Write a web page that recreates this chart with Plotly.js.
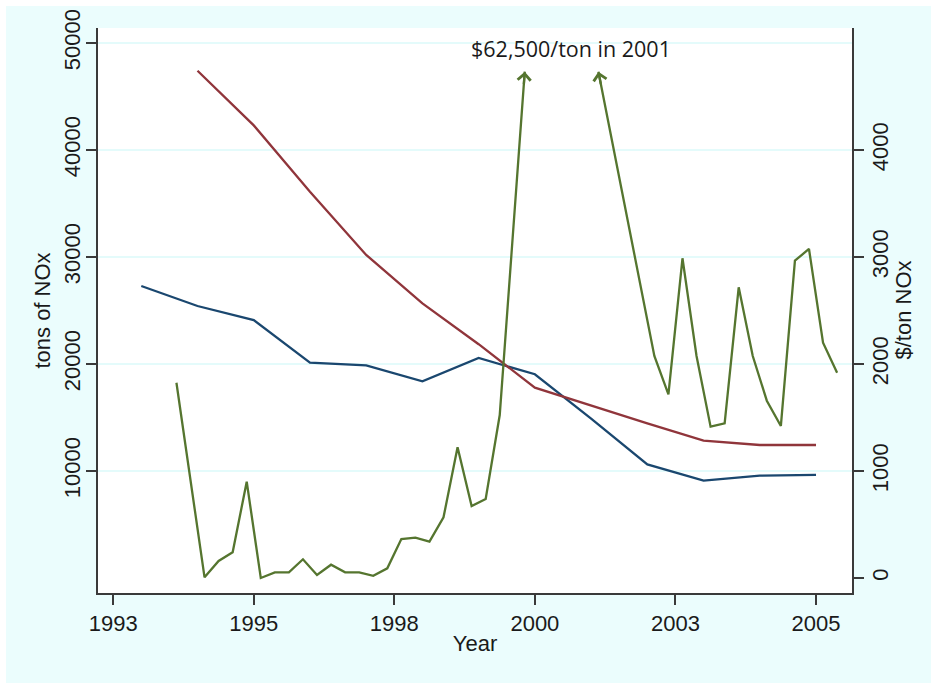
<!DOCTYPE html>
<html>
<head>
<meta charset="utf-8">
<script src="https://cdn.plot.ly/plotly-3.0.1.min.js"></script>
<style>
  html, body { margin: 0; padding: 0; background: #ffffff; }
  #chart { position: absolute; left: 6px; top: 6px; width: 925px; height: 677px; }
</style>
</head>
<body>
<div id="chart"></div>
<script>
// ---- data ----
const emissionYears = [1993, 1994, 1995, 1996, 1997, 1998, 1999, 2000, 2001, 2002, 2003, 2004, 2005];
const emissionTons  = [27290, 25420, 24110, 20120, 19880, 18380, 20560, 19040, 14900, 10620, 9100, 9560, 9630];

const budgetYears = [1994, 1995, 1996, 1997, 1998, 1999, 2000, 2001, 2002, 2003, 2004, 2005];
const budgetTons  = [47410, 42300, 36100, 30190, 25670, 21850, 17790, 16100, 14450, 12830, 12430, 12430];

// quarterly allowance price, $/ton NOx (2000-2001 off the scale)
const priceEarlyQ = [1993.625, 1994.125, 1994.375, 1994.625, 1994.875, 1995.125, 1995.375, 1995.625,
                     1995.875, 1996.125, 1996.375, 1996.625, 1996.875, 1997.125, 1997.375, 1997.625,
                     1997.875, 1998.125, 1998.375, 1998.625, 1998.875, 1999.125, 1999.375];
const priceEarly  = [1825, 6, 159, 240, 900, 0, 53, 53,
                     175, 28, 124, 53, 53, 21, 90, 364,
                     377, 340, 567, 1221, 673, 738, 1523];
const priceLateQ  = [2002.125, 2002.375, 2002.625, 2002.875, 2003.125, 2003.375, 2003.625, 2003.875,
                     2004.125, 2004.375, 2004.625, 2004.875, 2005.125, 2005.375];
const priceLate   = [2075, 1717, 2988, 2075, 1414, 1445, 2717, 2075,
                     1657, 1421, 2966, 3075, 2199, 1919];

// where the off-scale arrows are cut (top of the visible price scale)
const arrowTipX = [1999.82, 2001.13];
const arrowTipY = [4732, 4732];

const peakNote = '$62,500/ton in 2001';

const xTickVals = [1992.5, 1995, 1997.5, 2000, 2002.5, 2005];
const xTickText = ['1993', '1995', '1998', '2000', '2003', '2005'];
const leftTicks  = [10000, 20000, 30000, 40000, 50000];
const rightTicks = [0, 1000, 2000, 3000, 4000];

// ---- styles ----
const navy = '#1a476f', maroon = '#90353b', green = '#55752f';
const lw = 2.3;
const axisCol = '#3a3a3a';
const fontFam = 'Liberation Sans, Arial, sans-serif';

const traces = [
  { x: emissionYears, y: emissionTons, type: 'scatter', mode: 'lines',
    line: { color: navy, width: lw }, yaxis: 'y', hoverinfo: 'x+y' },
  { x: budgetYears, y: budgetTons, type: 'scatter', mode: 'lines',
    line: { color: maroon, width: lw }, yaxis: 'y', hoverinfo: 'x+y' },
  { x: priceEarlyQ.concat([arrowTipX[0]]), y: priceEarly.concat([arrowTipY[0]]),
    type: 'scatter', mode: 'lines', line: { color: green, width: lw }, yaxis: 'y2' },
  { x: [arrowTipX[1]].concat(priceLateQ), y: [arrowTipY[1]].concat(priceLate),
    type: 'scatter', mode: 'lines', line: { color: green, width: lw }, yaxis: 'y2' }
];

const heads = [
  { fromX: priceEarlyQ[priceEarlyQ.length - 1], fromY: priceEarly[priceEarly.length - 1], tipX: arrowTipX[0], tipY: arrowTipY[0] },
  { fromX: priceLateQ[0], fromY: priceLate[0], tipX: arrowTipX[1], tipY: arrowTipY[1] }
];

const xRange = [1992.23, 2005.64];
const yRange = [-1402, 51402];
const y2Range = [-140.2, 5140.2];

const annotations = [
  { text: peakNote, xref: 'x', yref: 'y2', x: 2000.64, y: 4953, showarrow: false,
    font: { family: 'Open Sans, Noto Sans, sans-serif', size: 21.5, color: '#1a1a1a' } },
  { text: '$/ton NOx', xref: 'paper', yref: 'paper', x: 1, y: 0.5, xshift: 51, textangle: -90,
    xanchor: 'center', yanchor: 'middle', showarrow: false,
    font: { family: fontFam, size: 22, color: '#1a1a1a' } }
];

const layout = {
  width: 925, height: 677,
  margin: { l: 92, r: 79, t: 22, b: 90, pad: 0 },
  paper_bgcolor: '#ebfdfd',
  plot_bgcolor: '#ffffff',
  showlegend: false,
  font: { family: fontFam, size: 22, color: '#1a1a1a' },
  xaxis: {
    range: xRange, tickmode: 'array', tickvals: xTickVals, ticktext: xTickText,
    showgrid: false, zeroline: false, showline: true, linecolor: axisCol, linewidth: 2,
    ticks: 'outside', ticklen: 10, tickwidth: 2, tickcolor: axisCol,
    tickfont: { size: 22 },
    title: { text: 'Year', font: { size: 22 }, standoff: 0 }
  },
  yaxis: {
    range: yRange, tickmode: 'array', tickvals: leftTicks, tickformat: 'd', tickangle: -90,
    ticklabelstandoff: -3,
    showgrid: true, gridcolor: '#e4fbfb', gridwidth: 1.5, zeroline: false,
    showline: true, linecolor: axisCol, linewidth: 2,
    ticks: 'outside', ticklen: 10, tickwidth: 2, tickcolor: axisCol,
    tickfont: { size: 22 },
    title: { text: 'tons of NOx', font: { size: 22 }, standoff: 4 }
  },
  yaxis2: {
    range: y2Range, overlaying: 'y', side: 'right', tickmode: 'array', tickvals: rightTicks,
    tickformat: 'd', tickangle: -90, ticklabelstandoff: -2,
    showgrid: false, zeroline: false, showline: true, linecolor: axisCol, linewidth: 2,
    ticks: 'outside', ticklen: 10, tickwidth: 2, tickcolor: axisCol,
    tickfont: { size: 22 }
  },
  annotations: annotations
};

Plotly.newPlot('chart', traces, layout, { displayModeBar: false, staticPlot: true }).then(function (gd) {
  // arrowheads at the cut-off tips, pointing along the segments, via the axes' own scales
  const xa = gd._fullLayout.xaxis, ya2 = gd._fullLayout.yaxis2;
  const extra = heads.map(function (h) {
    const dx = xa.d2p(h.fromX) - xa.d2p(h.tipX);
    const dy = ya2.d2p(h.fromY) - ya2.d2p(h.tipY);
    const len = Math.sqrt(dx * dx + dy * dy);
    return { x: h.tipX, y: h.tipY, xref: 'x', yref: 'y2', text: '', showarrow: true,
             ax: dx / len * 14, ay: dy / len * 14, arrowhead: 4, arrowsize: 1.1,
             arrowwidth: lw, arrowcolor: green, standoff: 0 };
  });
  Plotly.relayout(gd, { annotations: annotations.concat(extra) });
});
</script>
</body>
</html>
